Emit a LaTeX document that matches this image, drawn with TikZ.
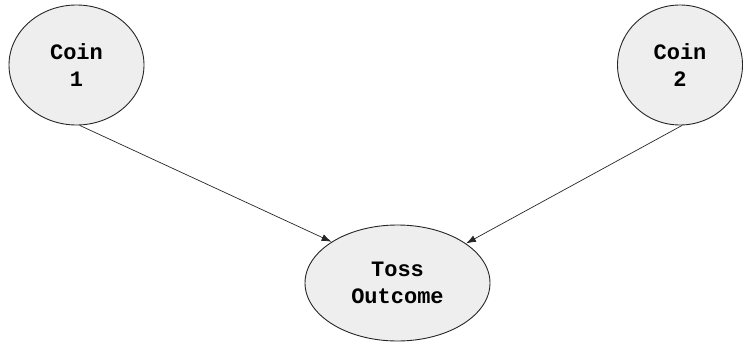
\documentclass[tikz,border=0pt]{standalone}
\usepackage{fontspec}
\setmonofont{Liberation Mono}
\usetikzlibrary{shapes.geometric,arrows.meta}
\definecolor{nodefill}{HTML}{EEEEEE}
\begin{document}
\begin{tikzpicture}[x=1pt,y=-1pt,
  ev/.style={ellipse,draw=black!85,line width=0.9pt,fill=nodefill,inner sep=0pt,
    font=\ttfamily\bfseries\fontsize{22}{27}\selectfont,align=center},
  conn/.style={-{Latex[length=10pt,width=7pt]},line width=0.7pt,black!85}]
\useasboundingbox (0,0) rectangle (743,345);
\node[ev,minimum width=135pt,minimum height=120pt] (c1) at (76.5,65) {Coin\\1};
\node[ev,minimum width=125pt,minimum height=120pt] (c2) at (680,65) {Coin\\2};
\node[ev,minimum width=185pt,minimum height=116pt] (t) at (397.5,283) {Toss\\Outcome};
\draw[conn] (c1.-87) -- (t.148);
\draw[conn] (c2.-88) -- (t.30);
\end{tikzpicture}
\end{document}
